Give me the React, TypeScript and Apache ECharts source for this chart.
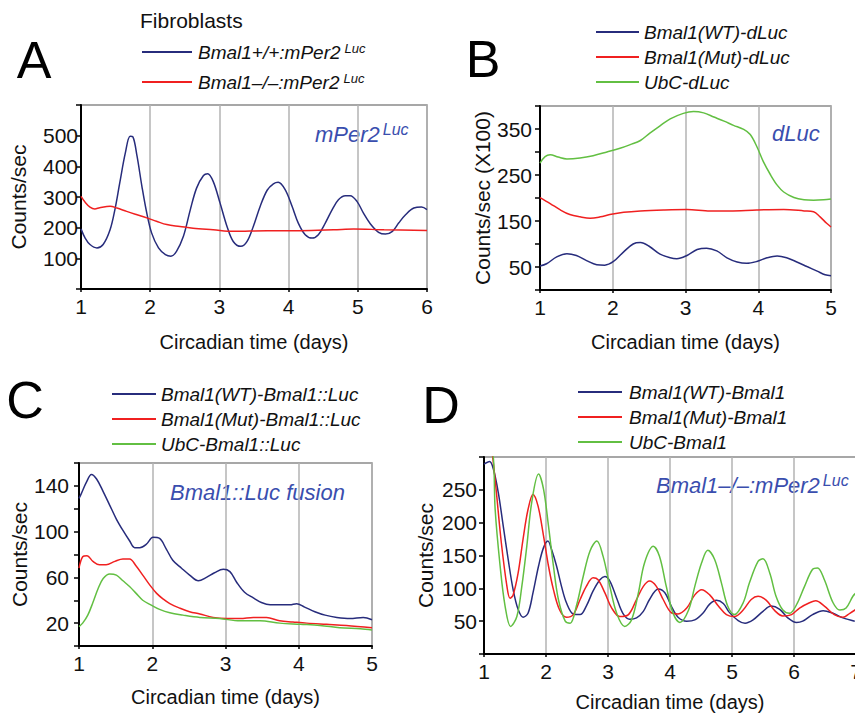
import React, { useEffect, useRef } from "react";
import * as echarts from "echarts";

// ---------- Panel A (mPer2Luc fibroblasts) ----------
const aWTDays = [1.00,1.06,1.13,1.23,1.32,1.42,1.49,1.56,1.64,1.71,1.75,1.81,1.88,1.95,2.02,2.12,2.22,2.30,2.38,2.48,2.58,2.67,2.77,2.83,2.91,3.01,3.11,3.20,3.31,3.40,3.49,3.59,3.69,3.78,3.85,3.95,4.05,4.14,4.24,4.34,4.43,4.53,4.63,4.72,4.82,4.89,4.99,5.08,5.18,5.30,5.40,5.50,5.59,5.69,5.81,5.92,6.00];
const aWT = [196,166,145,134,145,193,259,346,443,498,496,433,335,248,183,134,112,107,123,172,259,329,370,376,351,280,204,155,139,155,204,270,322,343,348,324,270,215,177,166,177,215,259,291,304,304,285,248,213,185,179,188,215,242,264,267,259];
const aKODays = [1.00,1.06,1.13,1.20,1.27,1.42,1.52,1.66,1.81,1.95,2.09,2.24,2.43,2.62,2.91,3.20,3.69,4.17,4.65,4.94,5.38,6.00];
const aKO = [302,283,267,261,265,270,264,253,242,232,221,210,204,198,193,188,190,190,193,196,193,191];
const aYLabels = [100, 200, 300, 400, 500];

// ---------- Panel B (dLuc) ----------
const bWTDays = [1.00,1.09,1.23,1.37,1.50,1.64,1.78,1.89,2.01,2.15,2.28,2.38,2.51,2.65,2.79,2.88,3.02,3.16,3.29,3.43,3.57,3.71,3.84,3.98,4.12,4.26,4.39,4.53,4.67,4.81,4.92,5.00];
const bWT = [52,57,72,79,75,64,55,54,62,83,100,103,94,78,70,68,75,88,91,85,70,61,58,62,70,74,70,61,51,41,33,31];
const bMutDays = [1.00,1.14,1.28,1.41,1.55,1.69,1.83,1.96,2.15,2.38,2.70,3.02,3.34,3.61,3.98,4.35,4.63,4.76,4.85,4.94,5.00];
const bMut = [201,188,174,164,159,156,159,164,169,172,174,175,172,172,174,175,172,170,159,145,137];
const bUbcDays = [1.00,1.07,1.14,1.25,1.37,1.55,1.73,1.92,2.10,2.24,2.38,2.51,2.65,2.79,2.97,3.11,3.25,3.39,3.53,3.66,3.80,3.89,3.98,4.07,4.17,4.26,4.35,4.49,4.63,4.76,4.90,5.00];
const bUbc = [276,290,294,289,285,287,292,300,308,316,325,341,357,372,384,388,385,376,367,358,349,338,312,279,250,228,213,201,196,195,196,198];
const bYLabels = [50, 150, 250, 350];

// ---------- Panel C (Bmal1::Luc fusion) ----------
const cWTDays = [1.00,1.03,1.10,1.17,1.24,1.33,1.42,1.51,1.60,1.69,1.76,1.83,1.92,2.01,2.10,2.19,2.28,2.40,2.51,2.63,2.74,2.85,2.97,3.06,3.15,3.26,3.38,3.49,3.61,3.74,3.88,3.97,4.08,4.22,4.36,4.52,4.70,4.88,5.00];
const cWT = [129,133,143,150,146,135,123,111,101,92,86,86,89,95,94,85,75,68,62,57,60,64,67,65,56,47,42,38,36,36,36,37,34,30,27,25,24,25,23];
const cMutDays = [1.00,1.05,1.11,1.19,1.28,1.37,1.49,1.60,1.69,1.78,1.87,1.97,2.06,2.15,2.24,2.38,2.51,2.65,2.83,3.01,3.20,3.38,3.56,3.74,3.92,4.11,4.38,4.65,5.00];
const cMut = [68,78,79,74,71,71,74,76,76,70,62,53,46,41,37,33,30,28,25,24,24,25,25,22,21,20,19,18,16];
const cUbcDays = [1.00,1.05,1.12,1.19,1.26,1.33,1.42,1.51,1.60,1.69,1.78,1.87,1.98,2.10,2.24,2.42,2.65,2.92,3.20,3.47,3.74,4.02,4.29,4.56,4.84,5.00];
const cUbc = [17,20,27,38,50,59,63,62,57,52,46,40,36,32,29,27,25,24,22,22,20,19,18,16,15,14];
const cYLabels = [20, 60, 100, 140];

// ---------- Panel D (Bmal1-/-:mPer2Luc rescue) ----------
const dWTDays = [1.00,1.09,1.15,1.23,1.31,1.39,1.47,1.55,1.63,1.71,1.79,1.88,1.96,2.03,2.09,2.17,2.25,2.33,2.44,2.55,2.65,2.76,2.87,2.95,3.03,3.14,3.24,3.35,3.46,3.57,3.67,3.81,3.92,4.02,4.13,4.27,4.40,4.53,4.64,4.75,4.86,4.96,5.10,5.21,5.34,5.50,5.63,5.77,5.90,6.04,6.14,6.30,6.47,6.63,6.79,6.98];
const dWT = [289,293,282,246,195,144,98,68,56,62,93,134,162,172,159,134,103,78,61,60,73,96,113,118,111,85,62,53,55,65,83,99,93,73,56,50,52,62,76,82,77,63,51,47,52,65,73,68,55,48,50,60,66,62,55,50];
const dMutDays = [1.00,1.14,1.20,1.28,1.37,1.42,1.47,1.55,1.63,1.71,1.79,1.87,1.96,2.04,2.12,2.22,2.33,2.44,2.55,2.65,2.76,2.84,2.95,3.06,3.19,3.33,3.46,3.57,3.67,3.78,3.89,4.02,4.13,4.27,4.40,4.51,4.64,4.78,4.91,5.04,5.18,5.31,5.42,5.55,5.69,5.82,5.96,6.09,6.25,6.35,6.49,6.65,6.79,6.90,7.00];
const dMut = [400,300,246,169,103,85,90,123,175,220,243,226,180,134,98,67,56,60,83,103,116,113,93,70,57,60,83,103,111,103,83,63,61,70,90,98,90,73,60,57,67,83,88,82,66,58,60,70,78,81,73,60,56,62,68];
const dUbcDays = [1.00,1.15,1.18,1.26,1.34,1.43,1.53,1.61,1.69,1.77,1.88,1.96,2.04,2.12,2.20,2.31,2.39,2.49,2.60,2.71,2.82,2.92,3.03,3.14,3.27,3.38,3.49,3.59,3.73,3.83,3.94,4.05,4.16,4.30,4.40,4.51,4.61,4.72,4.83,4.93,5.04,5.18,5.28,5.42,5.50,5.61,5.71,5.82,5.93,6.04,6.17,6.30,6.38,6.49,6.63,6.74,6.84,6.95,7.00];
const dUbc = [420,300,220,134,73,42,57,103,164,231,274,251,195,134,83,50,47,73,118,157,172,149,103,62,42,52,93,139,164,149,103,62,48,67,103,139,158,144,108,73,60,78,108,141,145,123,88,67,62,75,103,129,131,113,78,67,70,88,93];
const dYLabels = [50, 100, 150, 200, 250];

const NAVY = "#272c7c";
const RED = "#f02020";
const GREEN = "#62bf42";
const ANNO = "#3a4eae";
const FONT = '"Liberation Sans", Arial, Helvetica, sans-serif';

const pairs = (xs: number[], ys: number[]) => xs.map((x, i) => [x, ys[i]]);

function xAxisCfg(gridIndex: number, max: number, nameGap: number) {
  return {
    type: "value", gridIndex, min: 1, max, interval: 1,
    name: "Circadian time (days)", nameLocation: "middle", nameGap,
    nameTextStyle: { fontSize: 20, color: "#111", fontFamily: FONT },
    axisLine: { show: true, onZero: false, lineStyle: { color: "#000", width: 2 } },
    axisTick: { show: true, length: 3, lineStyle: { color: "#000", width: 1.5 } },
    axisLabel: { fontSize: 21, color: "#111", margin: 7, fontFamily: FONT },
    splitLine: { show: true, lineStyle: { color: "#b3b3b3", width: 1.5 } },
  };
}

function yAxisCfg(gridIndex: number, max: number, interval: number, labels: number[], name: string, nameGap: number, margin: number) {
  return {
    type: "value", gridIndex, min: 0, max, interval,
    name, nameLocation: "middle", nameGap, nameRotate: 90,
    nameTextStyle: { fontSize: 21, color: "#111", fontFamily: FONT },
    axisLine: { show: true, onZero: false, lineStyle: { color: "#000", width: 2 } },
    axisTick: { show: true, length: 5, lineStyle: { color: "#000", width: 1.5 } },
    axisLabel: {
      fontSize: 21, color: "#111", margin, fontFamily: FONT,
      formatter: (v: number) => (labels.includes(v) ? String(v) : ""),
      showMinLabel: true, showMaxLabel: true,
    },
    splitLine: { show: false },
  };
}

function line(name: string, xi: number, xs: number[], ys: number[], color: string) {
  return {
    name, type: "line", xAxisIndex: xi, yAxisIndex: xi,
    data: pairs(xs, ys), showSymbol: false, symbol: "none", smooth: 0.35, clip: true,
    color, lineStyle: { color, width: 1.5 },
  };
}

const legendRich = {
  n: { fontSize: 19, fontStyle: "italic", fontFamily: FONT, color: "#111", lineHeight: 20 },
  s: { fontSize: 13, fontStyle: "italic", fontFamily: FONT, color: "#111", lineHeight: 20, verticalAlign: "top", padding: [0, 0, 0, 4] },
};

function legendCfg(names: string[], left: number, top: number, itemWidth: number, itemGap: number, textPad: number) {
  return {
    data: names, left, top, orient: "vertical", icon: "rect", itemWidth, itemHeight: 2,
    itemGap, selectedMode: false,
    textStyle: { fontSize: 19, fontStyle: "italic", fontFamily: FONT, color: "#111", lineHeight: 20, padding: [0, 0, 0, textPad], rich: legendRich },
    formatter: (n: string) => {
      if (n.endsWith("Luc") && n.includes("mPer2")) {
        return "{n|" + n.slice(0, -3) + "}{s|Luc}";
      }
      return "{n|" + n + "}";
    },
  };
}

const letter = (t: string, x: number, y: number) => ({
  type: "text", x, y,
  style: { text: t, font: `52px ${FONT}`, fill: "#000", align: "center", verticalAlign: "middle" },
});

const annoRich = {
  m: { fontSize: 22, fontStyle: "italic", fontFamily: FONT, fill: ANNO, color: ANNO, lineHeight: 26 },
  s: { fontSize: 16, fontStyle: "italic", fontFamily: FONT, fill: ANNO, color: ANNO, lineHeight: 26, verticalAlign: "top", padding: [0, 0, 0, 3] },
};
const anno = (t: string, x: number, y: number) => ({
  type: "text", x, y,
  style: { text: t, rich: annoRich, align: "left", verticalAlign: "middle", fill: ANNO },
});

export default function App() {
  const ref = useRef<HTMLDivElement>(null);
  useEffect(() => {
    if (!ref.current) return;
    const chart = echarts.init(ref.current, null, { renderer: "svg" });
    const gridBase = { show: true, borderColor: "#8a8a8a", borderWidth: 1.5, backgroundColor: "transparent", containLabel: false, outerBoundsMode: "none" };
    chart.setOption({
      animation: false,
      backgroundColor: "#fff",
      grid: [
        { ...gridBase, left: 81, top: 105, width: 346, height: 184 },
        { ...gridBase, left: 540, top: 106, width: 291, height: 184 },
        { ...gridBase, left: 79, top: 463, width: 293, height: 183 },
        { ...gridBase, left: 484, top: 457, width: 372, height: 197 },
      ],
      xAxis: [xAxisCfg(0, 6, 43), xAxisCfg(1, 5, 42), xAxisCfg(2, 5, 41), xAxisCfg(3, 7, 38)],
      yAxis: [
        yAxisCfg(0, 600, 100, aYLabels, "Counts/sec", 52, 3),
        yAxisCfg(1, 400, 50, bYLabels, "Counts/sec (X100)", 47, 8),
        yAxisCfg(2, 160, 20, cYLabels, "Counts/sec", 45, 10),
        yAxisCfg(3, 300, 50, dYLabels, "Counts/sec", 48, 7),
      ],
      legend: [
        legendCfg(["Bmal1+/+:mPer2Luc", "Bmal1–/–:mPer2Luc"], 137, 37, 50, 10, 1),
        legendCfg(["Bmal1(WT)-dLuc", "Bmal1(Mut)-dLuc", "UbC-dLuc"], 591, 17, 43, 5, 0),
        legendCfg(["Bmal1(WT)-Bmal1::Luc", "Bmal1(Mut)-Bmal1::Luc", "UbC-Bmal1::Luc"], 107, 379, 44, 5, 0),
        legendCfg(["Bmal1(WT)-Bmal1", "Bmal1(Mut)-Bmal1", "UbC-Bmal1"], 573, 377, 44, 5, 2),
      ],
      series: [
        line("Bmal1+/+:mPer2Luc", 0, aWTDays, aWT, NAVY),
        line("Bmal1–/–:mPer2Luc", 0, aKODays, aKO, RED),
        line("Bmal1(WT)-dLuc", 1, bWTDays, bWT, NAVY),
        line("Bmal1(Mut)-dLuc", 1, bMutDays, bMut, RED),
        line("UbC-dLuc", 1, bUbcDays, bUbc, GREEN),
        line("Bmal1(WT)-Bmal1::Luc", 2, cWTDays, cWT, NAVY),
        line("Bmal1(Mut)-Bmal1::Luc", 2, cMutDays, cMut, RED),
        line("UbC-Bmal1::Luc", 2, cUbcDays, cUbc, GREEN),
        line("Bmal1(WT)-Bmal1", 3, dWTDays, dWT, NAVY),
        line("Bmal1(Mut)-Bmal1", 3, dMutDays, dMut, RED),
        line("UbC-Bmal1", 3, dUbcDays, dUbc, GREEN),
      ],
      graphic: [
        letter("A", 34, 60),
        letter("B", 483, 59),
        letter("C", 25, 400),
        letter("D", 441, 405),
        { type: "text", x: 140, y: 20, style: { text: "Fibroblasts", font: `21px ${FONT}`, fill: "#111", verticalAlign: "middle" } },
        anno("{m|mPer2}{s|Luc}", 315, 134),
        anno("{m|dLuc}", 772, 133),
        anno("{m|Bmal1::Luc fusion}", 170, 492),
        anno("{m|Bmal1–/–:mPer2}{s|Luc}", 656, 485),
      ],
    });
    return () => chart.dispose();
  }, []);
  return <div ref={ref} style={{ position: "fixed", left: 0, top: 0, width: 855, height: 714 }} />;
}
